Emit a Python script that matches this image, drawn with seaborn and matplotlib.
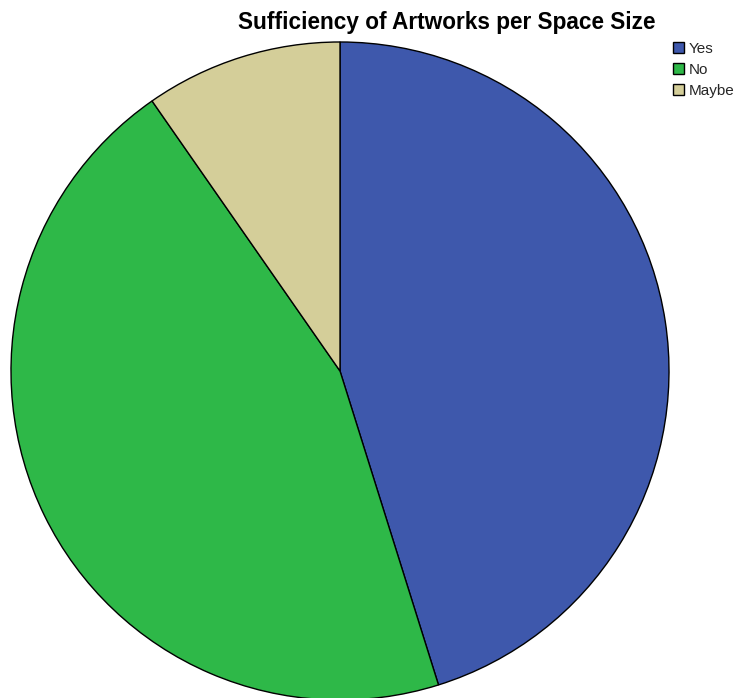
import matplotlib
matplotlib.use("Agg")
import matplotlib.pyplot as plt
import seaborn as sns

categories = ["Yes", "No", "Maybe"]
counts = [14, 14, 3]
colors = ["#3E58AC", "#2EB848", "#D4CE99"]

sns.set_theme(style="white")
plt.rcParams["font.family"] = ["Liberation Sans", "DejaVu Sans"]

W, H = 739, 698
fig = plt.figure(figsize=(W / 100, H / 100), dpi=100)
fig.patch.set_facecolor("white")

# pie axes: centre at (340, 371) px from top-left, radius 330 px
cx, cy, r = 340, 371, 330
ax = fig.add_axes([(cx - r) / W, (H - cy - r) / H, 2 * r / W, 2 * r / H])
wedges, _ = ax.pie(
    counts,
    colors=sns.color_palette(colors),
    startangle=90,
    counterclock=False,
    radius=1.0,
    wedgeprops=dict(edgecolor="black", linewidth=1.0),
)
ax.set_xlim(-1.003, 1.003)
ax.set_ylim(-1.003, 1.003)
ax.set_aspect("equal")
ax.axis("off")

fig.text(447 / W, 1 - 22 / H, "Sufficiency of Artworks per Space Size",
         ha="center", va="center", fontsize=16.3, fontweight="bold", color="black")

leg = fig.legend(
    wedges, categories,
    loc="upper left",
    bbox_to_anchor=(673 / W, 1 - 42 / H),
    frameon=False,
    fontsize=11,
    handlelength=0.75,
    handleheight=0.75,
    handletextpad=0.3,
    labelspacing=0.45,
    borderaxespad=0,
    borderpad=0,
)
for h in leg.legend_handles:
    h.set_edgecolor("black")
    h.set_linewidth(1.0)

fig.savefig("out.png", dpi=100)
